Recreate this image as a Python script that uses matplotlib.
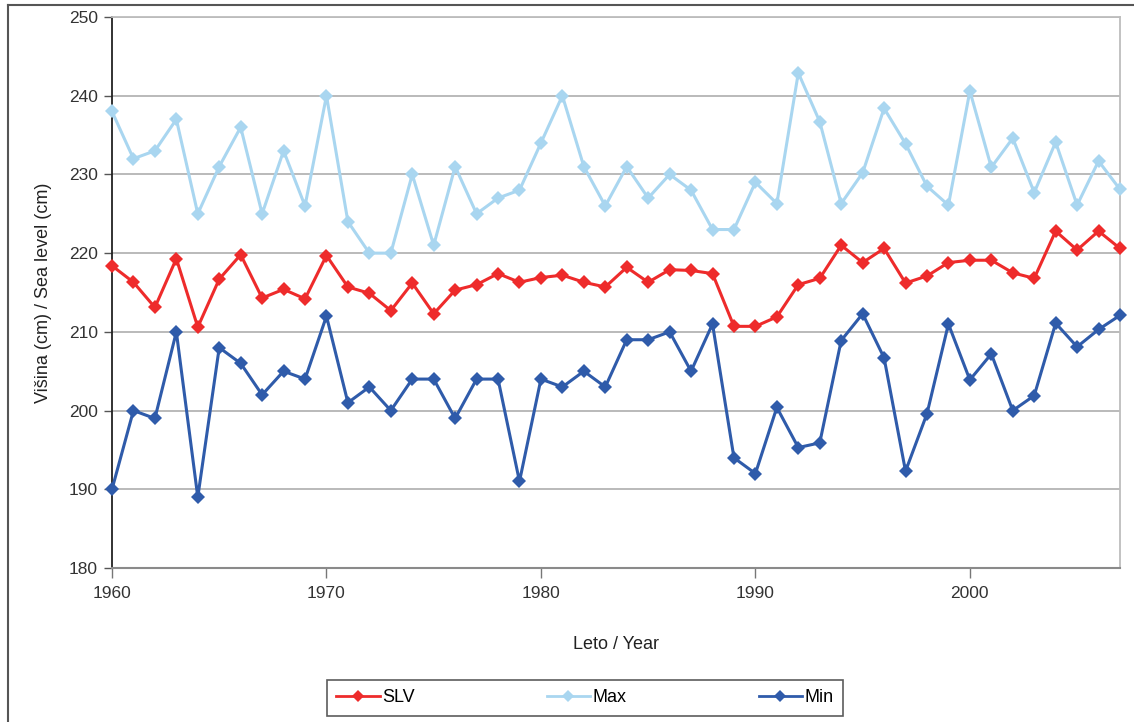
import matplotlib
matplotlib.use("Agg")
import matplotlib.pyplot as plt
from matplotlib.lines import Line2D

plt.rcParams['font.family'] = ['Liberation Sans', 'DejaVu Sans']

years = list(range(1960, 2008))

slv = [218.4, 216.3, 213.1, 219.3, 210.6, 216.7, 219.8, 214.3, 215.4, 214.2,
       219.7, 215.7, 214.9, 212.7, 216.2, 212.3, 215.3, 216.0, 217.4, 216.3,
       216.9, 217.2, 216.3, 215.7, 218.2, 216.3, 217.9, 217.8, 217.4, 210.7,
       210.7, 211.9, 216.0, 216.8, 221.0, 218.8, 220.6, 216.2, 217.1, 218.8,
       219.1, 219.1, 217.5, 216.8, 222.8, 220.4, 222.8, 220.6]

smax = [238, 232, 233, 237, 225, 231, 236, 225, 233, 226,
        240, 224, 220, 220, 230, 221, 231, 225, 227, 228,
        234, 240, 231, 226, 231, 227, 230, 228, 223, 223,
        229, 226.3, 242.9, 236.7, 226.3, 230.2, 238.4, 233.9, 228.5, 226.1,
        240.6, 230.9, 234.6, 227.7, 234.1, 226.1, 231.7, 228.1]

smin = [190, 200, 199, 210, 189, 208, 206, 202, 205, 204,
        212, 201, 203, 200, 204, 204, 199, 204, 204, 191,
        204, 203, 205, 203, 209, 209, 210, 205, 211, 194,
        192, 200.4, 195.3, 195.9, 208.9, 212.3, 206.7, 192.3, 199.6, 211.0,
        203.9, 207.2, 200.0, 201.9, 211.1, 208.1, 210.3, 212.1]

series_names = ['SLV', 'Max', 'Min']
colors = ['#EE2B2B', '#A9D6F0', '#2F5BAA']

xticks = [1960, 1970, 1980, 1990, 2000]
yticks = [180, 190, 200, 210, 220, 230, 240, 250]

W, H = 1134, 722
fig = plt.figure(figsize=(W / 100, H / 100), dpi=100)
ax = fig.add_axes([112 / W, 1 - 568 / H, (1120 - 112) / W, (568 - 17) / H])

for vals, name, c in zip([smax, slv, smin], ['Max', 'SLV', 'Min'],
                         [colors[1], colors[0], colors[2]]):
    ax.plot(years, vals, color=c, lw=2.2, marker='D', markersize=7,
            markeredgewidth=0, label=name, clip_on=False, zorder=3)

ax.set_xlim(1960, 2007)
ax.set_ylim(180, 250)
ax.set_xticks(xticks)
ax.set_yticks(yticks)
ax.grid(axis='y', color='#B4B4B4', lw=1.3, zorder=0)
ax.set_axisbelow(True)

ax.spines['left'].set_color('#222222')
ax.spines['left'].set_linewidth(1.3)
ax.spines['bottom'].set_color('#8A8A8A')
ax.spines['bottom'].set_linewidth(1.5)
ax.spines['right'].set_color('#BDBDBD')
ax.spines['right'].set_linewidth(1.3)
ax.spines['top'].set_color('#BDBDBD')
ax.spines['top'].set_linewidth(1.3)

ax.tick_params(axis='y', direction='out', length=6, width=1.0, color='#555555',
               labelsize=12.5, labelcolor='#333333', pad=4)
ax.tick_params(axis='x', direction='out', length=7, width=1.0, color='#777777',
               labelsize=12.5, labelcolor='#333333', pad=6)

ax.set_xlabel('Leto / Year', fontsize=13, color='#222222', labelpad=25)
ax.set_ylabel('Višina (cm) / Sea level (cm)', fontsize=13, color='#222222', labelpad=12)

# legend
handles = [Line2D([0], [0], color=c, lw=2.0, marker='D', markersize=6.5,
                  markeredgewidth=0) for c in colors]
leg = fig.legend(handles, series_names, loc='center',
                 bbox_to_anchor=(585 / W, 1 - 698 / H), ncol=3,
                 frameon=True, fancybox=False, fontsize=13,
                 handlelength=2.4, handletextpad=0.15, columnspacing=7.3,
                 borderpad=0.5, borderaxespad=0)
leg.get_frame().set_edgecolor('#333333')
leg.get_frame().set_linewidth(1.2)

# figure frame (top and left)
fig.add_artist(Line2D([8 / W, 1.0], [1 - 5 / H, 1 - 5 / H], color='#555555', lw=1.5,
                      transform=fig.transFigure))
fig.add_artist(Line2D([8 / W, 8 / W], [0, 1 - 5 / H], color='#555555', lw=1.5,
                      transform=fig.transFigure))

fig.savefig('out.png', dpi=100)
